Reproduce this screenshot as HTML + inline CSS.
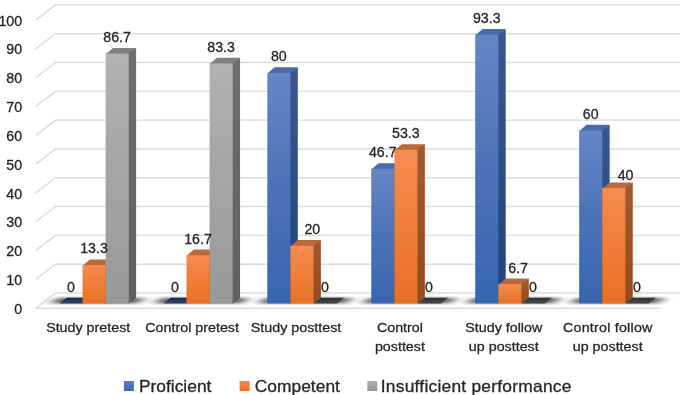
<!DOCTYPE html><html><head><meta charset="utf-8"><style>html,body{margin:0;padding:0;background:#fff;width:685px;height:395px;overflow:hidden}svg{display:block;will-change:transform}text{font-family:"Liberation Sans",sans-serif;fill:#262626;stroke:#262626;stroke-width:0.3px}</style></head><body>
<svg width="685" height="395" viewBox="0 0 685 395">
<defs>
<linearGradient id="gB" x1="0" y1="0" x2="0" y2="1"><stop offset="0" stop-color="#6586c5"/><stop offset="0.5" stop-color="#4b72b8"/><stop offset="1" stop-color="#3666b0"/></linearGradient>
<linearGradient id="gO" x1="0" y1="0" x2="0" y2="1"><stop offset="0" stop-color="#f58c50"/><stop offset="1" stop-color="#e87023"/></linearGradient>
<linearGradient id="gG" x1="0" y1="0" x2="0" y2="1"><stop offset="0" stop-color="#b0b1b0"/><stop offset="1" stop-color="#989898"/></linearGradient>
<linearGradient id="sB" x1="0" y1="0" x2="0" y2="1"><stop offset="0" stop-color="#3b5791"/><stop offset="1" stop-color="#22437e"/></linearGradient>
<linearGradient id="sO" x1="0" y1="0" x2="0" y2="1"><stop offset="0" stop-color="#a2592e"/><stop offset="1" stop-color="#964921"/></linearGradient>
<linearGradient id="sG" x1="0" y1="0" x2="0" y2="1"><stop offset="0" stop-color="#6e6f6e"/><stop offset="1" stop-color="#5f605f"/></linearGradient>
<linearGradient id="zB" x1="0" y1="0" x2="0" y2="1"><stop offset="0" stop-color="#1d2840"/><stop offset="1" stop-color="#2d4677"/></linearGradient>
<linearGradient id="zG" x1="0" y1="0" x2="0" y2="1"><stop offset="0" stop-color="#333333"/><stop offset="1" stop-color="#444444"/></linearGradient>
<linearGradient id="lB" x1="0" y1="0" x2="0" y2="1"><stop offset="0" stop-color="#5b7cc4"/><stop offset="1" stop-color="#3d66b3"/></linearGradient>
<linearGradient id="lO" x1="0" y1="0" x2="0" y2="1"><stop offset="0" stop-color="#f38a48"/><stop offset="1" stop-color="#e8711f"/></linearGradient>
<linearGradient id="lG" x1="0" y1="0" x2="0" y2="1"><stop offset="0" stop-color="#b0b0b0"/><stop offset="1" stop-color="#959595"/></linearGradient>
<filter id="blur" x="-30%" y="-300%" width="160%" height="700%"><feGaussianBlur stdDeviation="6 1.0"/></filter>
</defs>
<polyline points="35.7,308.2 55.4,293 680,293" fill="none" stroke="#dadcdb" stroke-width="1.4" stroke-linejoin="round"/>
<polyline points="35.7,279.39 55.4,264.19 680,264.19" fill="none" stroke="#dadcdb" stroke-width="1.4" stroke-linejoin="round"/>
<polyline points="35.7,250.58 55.4,235.38 680,235.38" fill="none" stroke="#dadcdb" stroke-width="1.4" stroke-linejoin="round"/>
<polyline points="35.7,221.77 55.4,206.57 680,206.57" fill="none" stroke="#dadcdb" stroke-width="1.4" stroke-linejoin="round"/>
<polyline points="35.7,192.96 55.4,177.76 680,177.76" fill="none" stroke="#dadcdb" stroke-width="1.4" stroke-linejoin="round"/>
<polyline points="35.7,164.15 55.4,148.95 680,148.95" fill="none" stroke="#dadcdb" stroke-width="1.4" stroke-linejoin="round"/>
<polyline points="35.7,135.34 55.4,120.14 680,120.14" fill="none" stroke="#dadcdb" stroke-width="1.4" stroke-linejoin="round"/>
<polyline points="35.7,106.53 55.4,91.33 680,91.33" fill="none" stroke="#dadcdb" stroke-width="1.4" stroke-linejoin="round"/>
<polyline points="35.7,77.72 55.4,62.52 680,62.52" fill="none" stroke="#dadcdb" stroke-width="1.4" stroke-linejoin="round"/>
<polyline points="35.7,48.91 55.4,33.71 680,33.71" fill="none" stroke="#dadcdb" stroke-width="1.4" stroke-linejoin="round"/>
<polyline points="35.7,20.1 55.4,4.9 680,4.9" fill="none" stroke="#dadcdb" stroke-width="1.4" stroke-linejoin="round"/>
<line x1="35.7" y1="308.2" x2="660.4" y2="308.2" stroke="#dadcdb" stroke-width="1.5"/>
<polygon points="50.4,303.4 57.8,297.7 145.1,297.7 137.7,303.4" fill="#000" opacity="0.62" filter="url(#blur)"/>
<polygon points="154.35,303.4 161.75,297.7 249.05,297.7 241.65,303.4" fill="#000" opacity="0.62" filter="url(#blur)"/>
<polygon points="258.3,303.4 265.7,297.7 353,297.7 345.6,303.4" fill="#000" opacity="0.62" filter="url(#blur)"/>
<polygon points="362.25,303.4 369.65,297.7 456.95,297.7 449.55,303.4" fill="#000" opacity="0.62" filter="url(#blur)"/>
<polygon points="466.2,303.4 473.6,297.7 560.9,297.7 553.5,303.4" fill="#000" opacity="0.62" filter="url(#blur)"/>
<polygon points="570.15,303.4 577.55,297.7 664.85,297.7 657.45,303.4" fill="#000" opacity="0.62" filter="url(#blur)"/>
<polygon points="59.4,303.4 66.8,297.7 89.9,297.7 82.5,303.4" fill="url(#zB)"/>
<polygon points="82.5,265.68 89.9,259.38 113,259.38 105.6,265.68" fill="#b9693a"/>
<polygon points="105,265.08 113,259.38 113,297.7 105,303.4" fill="url(#sO)"/>
<rect x="82.5" y="265.08" width="23.1" height="38.32" fill="url(#gO)"/>
<polygon points="105.6,54.22 113,47.92 136.1,47.92 128.7,54.22" fill="#7f807f"/>
<polygon points="128.1,53.62 136.1,47.92 136.1,297.7 128.1,303.4" fill="url(#sG)"/>
<rect x="105.6" y="53.62" width="23.1" height="249.78" fill="url(#gG)"/>
<polygon points="163.35,303.4 170.75,297.7 193.85,297.7 186.45,303.4" fill="url(#zB)"/>
<polygon points="186.45,255.89 193.85,249.59 216.95,249.59 209.55,255.89" fill="#b9693a"/>
<polygon points="208.95,255.29 216.95,249.59 216.95,297.7 208.95,303.4" fill="url(#sO)"/>
<rect x="186.45" y="255.29" width="23.1" height="48.11" fill="url(#gO)"/>
<polygon points="209.55,64.01 216.95,57.71 240.05,57.71 232.65,64.01" fill="#7f807f"/>
<polygon points="232.05,63.41 240.05,57.71 240.05,297.7 232.05,303.4" fill="url(#sG)"/>
<rect x="209.55" y="63.41" width="23.1" height="239.99" fill="url(#gG)"/>
<polygon points="267.3,73.52 274.7,67.22 297.8,67.22 290.4,73.52" fill="#4c6aab"/>
<polygon points="289.8,72.92 297.8,67.22 297.8,297.7 289.8,303.4" fill="url(#sB)"/>
<rect x="267.3" y="72.92" width="23.1" height="230.48" fill="url(#gB)"/>
<polygon points="290.4,246.38 297.8,240.08 320.9,240.08 313.5,246.38" fill="#b9693a"/>
<polygon points="312.9,245.78 320.9,240.08 320.9,297.7 312.9,303.4" fill="url(#sO)"/>
<rect x="290.4" y="245.78" width="23.1" height="57.62" fill="url(#gO)"/>
<polygon points="313.5,303.4 320.9,297.7 344,297.7 336.6,303.4" fill="url(#zG)"/>
<polygon points="371.25,169.46 378.65,163.16 401.75,163.16 394.35,169.46" fill="#4c6aab"/>
<polygon points="393.75,168.86 401.75,163.16 401.75,297.7 393.75,303.4" fill="url(#sB)"/>
<rect x="371.25" y="168.86" width="23.1" height="134.54" fill="url(#gB)"/>
<polygon points="394.35,150.44 401.75,144.14 424.85,144.14 417.45,150.44" fill="#b9693a"/>
<polygon points="416.85,149.84 424.85,144.14 424.85,297.7 416.85,303.4" fill="url(#sO)"/>
<rect x="394.35" y="149.84" width="23.1" height="153.56" fill="url(#gO)"/>
<polygon points="417.45,303.4 424.85,297.7 447.95,297.7 440.55,303.4" fill="url(#zG)"/>
<polygon points="475.2,35.2 482.6,28.9 505.7,28.9 498.3,35.2" fill="#4c6aab"/>
<polygon points="497.7,34.6 505.7,28.9 505.7,297.7 497.7,303.4" fill="url(#sB)"/>
<rect x="475.2" y="34.6" width="23.1" height="268.8" fill="url(#gB)"/>
<polygon points="498.3,284.7 505.7,278.4 528.8,278.4 521.4,284.7" fill="#b9693a"/>
<polygon points="520.8,284.1 528.8,278.4 528.8,297.7 520.8,303.4" fill="url(#sO)"/>
<rect x="498.3" y="284.1" width="23.1" height="19.3" fill="url(#gO)"/>
<polygon points="521.4,303.4 528.8,297.7 551.9,297.7 544.5,303.4" fill="url(#zG)"/>
<polygon points="579.15,131.14 586.55,124.84 609.65,124.84 602.25,131.14" fill="#4c6aab"/>
<polygon points="601.65,130.54 609.65,124.84 609.65,297.7 601.65,303.4" fill="url(#sB)"/>
<rect x="579.15" y="130.54" width="23.1" height="172.86" fill="url(#gB)"/>
<polygon points="602.25,188.76 609.65,182.46 632.75,182.46 625.35,188.76" fill="#b9693a"/>
<polygon points="624.75,188.16 632.75,182.46 632.75,297.7 624.75,303.4" fill="url(#sO)"/>
<rect x="602.25" y="188.16" width="23.1" height="115.24" fill="url(#gO)"/>
<polygon points="625.35,303.4 632.75,297.7 655.85,297.7 648.45,303.4" fill="url(#zG)"/>
<text x="70.95" y="291.8" font-size="14.2" text-anchor="middle">0</text>
<text x="94.05" y="253.48" font-size="14.2" text-anchor="middle">13.3</text>
<text x="117.15" y="42.02" font-size="14.2" text-anchor="middle">86.7</text>
<text x="174.9" y="291.8" font-size="14.2" text-anchor="middle">0</text>
<text x="198" y="243.69" font-size="14.2" text-anchor="middle">16.7</text>
<text x="221.1" y="51.81" font-size="14.2" text-anchor="middle">83.3</text>
<text x="278.85" y="61.32" font-size="14.2" text-anchor="middle">80</text>
<text x="312.35" y="234.18" font-size="14.2" text-anchor="middle">20</text>
<text x="325.05" y="291.8" font-size="14.2" text-anchor="middle">0</text>
<text x="382.8" y="157.26" font-size="14.2" text-anchor="middle">46.7</text>
<text x="405.9" y="138.24" font-size="14.2" text-anchor="middle">53.3</text>
<text x="429" y="291.8" font-size="14.2" text-anchor="middle">0</text>
<text x="486.75" y="23" font-size="14.2" text-anchor="middle">93.3</text>
<text x="518.15" y="272.5" font-size="14.2" text-anchor="middle">6.7</text>
<text x="532.95" y="291.8" font-size="14.2" text-anchor="middle">0</text>
<text x="590.7" y="118.94" font-size="14.2" text-anchor="middle">60</text>
<text x="625.6" y="179.56" font-size="14.2" text-anchor="middle">40</text>
<text x="636.9" y="291.8" font-size="14.2" text-anchor="middle">0</text>
<text x="22.1" y="313.75" font-size="14.2" text-anchor="end">0</text>
<text x="22.1" y="284.94" font-size="14.2" text-anchor="end">10</text>
<text x="22.1" y="256.13" font-size="14.2" text-anchor="end">20</text>
<text x="22.1" y="227.32" font-size="14.2" text-anchor="end">30</text>
<text x="22.1" y="198.51" font-size="14.2" text-anchor="end">40</text>
<text x="22.1" y="169.7" font-size="14.2" text-anchor="end">50</text>
<text x="22.1" y="140.89" font-size="14.2" text-anchor="end">60</text>
<text x="22.1" y="112.08" font-size="14.2" text-anchor="end">70</text>
<text x="22.1" y="83.27" font-size="14.2" text-anchor="end">80</text>
<text x="22.1" y="54.46" font-size="14.2" text-anchor="end">90</text>
<text x="22.1" y="25.65" font-size="14.2" text-anchor="end">100</text>
<text transform="translate(88.2 332.2) scale(1 0.94)" font-size="14.3" text-anchor="middle">Study pretest</text>
<text transform="translate(192.1 332.2) scale(1 0.94)" font-size="14.3" text-anchor="middle">Control pretest</text>
<text transform="translate(296 332.2) scale(1 0.94)" font-size="14.3" text-anchor="middle">Study posttest</text>
<text transform="translate(399.9 332.2) scale(1 0.94)" font-size="14.3" text-anchor="middle">Control</text>
<text transform="translate(399.9 351) scale(1 0.94)" font-size="14.3" text-anchor="middle">posttest</text>
<text transform="translate(503.8 332.2) scale(1 0.94)" font-size="14.3" text-anchor="middle">Study follow</text>
<text transform="translate(503.8 351) scale(1 0.94)" font-size="14.3" text-anchor="middle">up posttest</text>
<text transform="translate(607.7 332.2) scale(1 0.94)" font-size="14.3" text-anchor="middle" textLength="89.4" lengthAdjust="spacing">Control follow</text>
<text transform="translate(607.7 351) scale(1 0.94)" font-size="14.3" text-anchor="middle">up posttest</text>
<rect x="123.9" y="381" width="10" height="10" fill="url(#lB)"/>
<text transform="translate(138.9 392.1) scale(1 0.9)" font-size="17.4">Proficient</text>
<rect x="239.6" y="381" width="10" height="10" fill="url(#lO)"/>
<text transform="translate(254.8 392.1) scale(1 0.9)" font-size="17.4">Competent</text>
<rect x="367.3" y="381" width="10" height="10" fill="url(#lG)"/>
<text transform="translate(380.8 392.1) scale(1 0.9)" font-size="17.4" textLength="190.6" lengthAdjust="spacing">Insufficient performance</text>
</svg></body></html>
